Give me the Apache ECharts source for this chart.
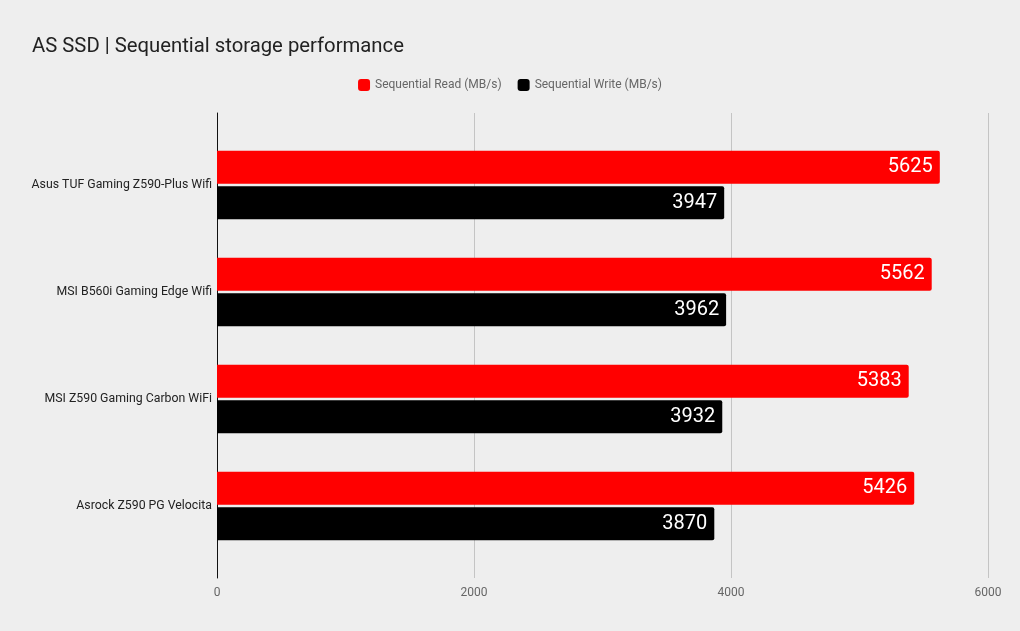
<!DOCTYPE html>
<html>
<head>
<meta charset="utf-8">
<script src="https://cdn.jsdelivr.net/npm/echarts@6/dist/echarts.min.js"></script>
<style>
    html, body { margin: 0; padding: 0; background: #eeeeee; }
    #chart { width: 1020px; height: 631px; }
</style>
</head>
<body>
<div id="chart"></div>
<script>
// 数据
var boards = ['Asus TUF Gaming Z590-Plus Wifi', 'MSI B560i Gaming Edge Wifi', 'MSI Z590 Gaming Carbon WiFi', 'Asrock Z590 PG Velocita'];
var readSpeed = [5625, 5562, 5383, 5426];
var writeSpeed = [3947, 3962, 3932, 3870];
var seriesNames = ['Sequential Read (MB/s)', 'Sequential Write (MB/s)'];
var xTicks = { min: 0, max: 6000, interval: 2000 };

var myChart = echarts.init(document.getElementById('chart'));

var barLabel = {
    show: true,
    position: 'insideRight',
    distance: 7,
    color: '#fff',
    fontSize: 20,
    fontFamily: 'Roboto'
};

var option = {
    backgroundColor: '#eeeeee',
    textStyle: { fontFamily: 'Roboto' },
    title: {
        text: 'AS SSD | Sequential storage performance',
        left: 27,
        top: 32,
        textStyle: { fontSize: 20.3, fontWeight: 'normal', color: '#222', fontFamily: 'Roboto' }
    },
    legend: {
        data: seriesNames,
        top: 74,
        left: 'center',
        icon: 'roundRect',
        itemWidth: 12,
        itemHeight: 12,
        itemGap: 16,
        textStyle: { color: '#666', fontSize: 12, fontFamily: 'Roboto' }
    },
    // grid 0 只画网格线和刻度, grid 1 画柱子
    grid: [
        { left: 217, right: 32, top: 113, bottom: 53 },
        { left: 217, right: 32, top: 131.5, height: 428 }
    ],
    xAxis: [
        {
            gridIndex: 0,
            type: 'value',
            min: xTicks.min,
            max: xTicks.max,
            interval: xTicks.interval,
            axisLine: { show: false },
            axisTick: { show: false },
            axisLabel: {
                color: '#666',
                fontSize: 12,
                margin: 9,
                formatter: function (v) { return String(v); }
            },
            splitLine: { show: true, lineStyle: { color: '#c4c4c4', width: 1 } }
        },
        {
            gridIndex: 1,
            type: 'value',
            min: xTicks.min,
            max: xTicks.max,
            show: false
        }
    ],
    yAxis: [
        {
            gridIndex: 0,
            type: 'value',
            axisLine: { show: true, lineStyle: { color: '#111', width: 1 } },
            axisTick: { show: false },
            axisLabel: { show: false },
            splitLine: { show: false }
        },
        {
            gridIndex: 1,
            type: 'category',
            inverse: true,
            data: boards,
            axisLine: { show: false },
            axisTick: { show: false },
            axisLabel: { color: '#222', fontSize: 12.3, margin: 5 }
        }
    ],
    series: [
        {
            name: seriesNames[0],
            type: 'bar',
            xAxisIndex: 1,
            yAxisIndex: 1,
            barWidth: 33,
            barGap: '7%',
            itemStyle: { color: '#ff0000', borderRadius: [0, 2, 2, 0] },
            label: barLabel,
            data: readSpeed
        },
        {
            name: seriesNames[1],
            type: 'bar',
            xAxisIndex: 1,
            yAxisIndex: 1,
            barWidth: 33,
            barGap: '7%',
            itemStyle: { color: '#000000', borderRadius: [0, 2, 2, 0] },
            label: barLabel,
            data: writeSpeed
        }
    ]
};
myChart.setOption(option, true);
</script>
</body>
</html>
